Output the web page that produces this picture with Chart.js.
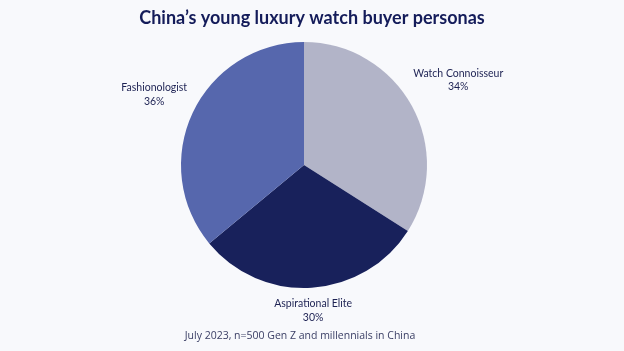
<!DOCTYPE html>
<html>
<head>
<meta charset="utf-8">
<script src="https://cdn.jsdelivr.net/npm/chart.js@4/dist/chart.umd.min.js"></script>
<style>
  html, body { margin: 0; padding: 0; background: #f8f9fc; }
  #wrap { width: 624px; height: 351px; position: relative; }
</style>
</head>
<body>
<div id="wrap"><canvas id="c" width="624" height="351"></canvas></div>
<script>
const titleText = "China\u2019s young luxury watch buyer personas";
const footerText = "July 2023, n=500 Gen Z and millennials in China";
const categories = ["Watch Connoisseur", "Aspirational Elite", "Fashionologist"];
const shares = [34, 30, 36];
const sliceColors = ["#b2b4c8", "#18215b", "#5667ad"];

const labelFont = "10.5px Lato, 'Open Sans', sans-serif";
const textColor = "#1d2253";

const overlay = {
  id: "overlay",
  beforeDraw(chart) {
    const ctx = chart.ctx;
    ctx.save();
    ctx.fillStyle = "#f8f9fc";
    ctx.fillRect(0, 0, chart.width, chart.height);
    ctx.restore();
  },
  afterDraw(chart) {
    const ctx = chart.ctx;
    ctx.save();
    // title
    ctx.fillStyle = "#141c5a";
    ctx.font = "bold 18px Lato, 'Open Sans', sans-serif";
    ctx.textAlign = "center";
    ctx.textBaseline = "middle";
    ctx.fillText(titleText, 312, 18);
    // footer
    ctx.fillStyle = "#3c4066";
    ctx.font = "10.5px 'Open Sans', Lato, sans-serif";
    ctx.fillText(footerText, 300, 336);
    // slice labels
    const meta = chart.getDatasetMeta(0);
    ctx.font = labelFont;
    ctx.fillStyle = textColor;
    const lineH = 13.5;
    meta.data.forEach((arc, i) => {
      const p = arc.getProps(["x", "y", "startAngle", "endAngle", "outerRadius"], true);
      const mid = (p.startAngle + p.endAngle) / 2;
      const ux = Math.cos(mid), uy = Math.sin(mid);
      const lines = [categories[i], shares[i] + "%"];
      const w = Math.max(...lines.map(l => ctx.measureText(l).width));
      const h = lineH * 2;
      const R = p.outerRadius + 7 + Math.abs(ux) * w / 2 + Math.abs(uy) * h / 2;
      const cx = p.x + ux * R, cy = p.y + uy * R;
      ctx.fillText(lines[0], cx, cy - lineH / 2);
      ctx.fillText(lines[1], cx, cy + lineH / 2);
    });
    ctx.restore();
  }
};

new Chart(document.getElementById("c"), {
  type: "pie",
  data: {
    labels: categories,
    datasets: [{
      data: shares,
      backgroundColor: sliceColors,
      borderWidth: 0
    }]
  },
  options: {
    responsive: false,
    animation: false,
    layout: { padding: { top: 42, bottom: 63, left: 100, right: 116 } },
    plugins: {
      legend: { display: false },
      title: { display: false },
      tooltip: { enabled: false }
    }
  },
  plugins: [overlay]
});
</script>
</body>
</html>
